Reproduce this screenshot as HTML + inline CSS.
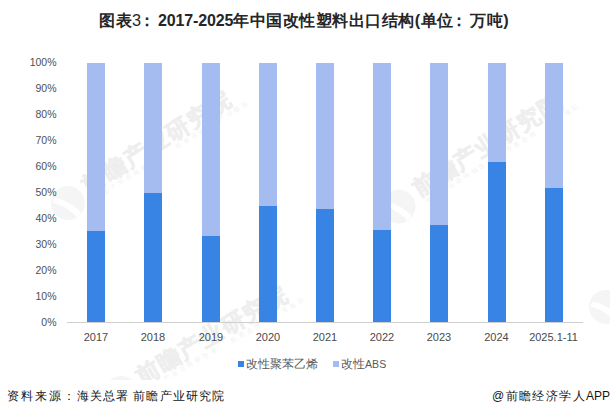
<!DOCTYPE html>
<html><head><meta charset="utf-8">
<style>
*{margin:0;padding:0;box-sizing:border-box}
html,body{width:610px;height:418px;overflow:hidden;background:#fff}
body{position:relative;font-family:"Liberation Sans",sans-serif;color:#595959}
.t{position:absolute;white-space:nowrap}
#title{left:99px;top:10px;font-size:16.3px;font-weight:bold;color:#262626;line-height:20px;letter-spacing:0.5px}
.yl{position:absolute;right:553.5px;font-size:10.5px;line-height:12px;color:#505050;text-align:right}
.xl{position:absolute;top:331px;width:60px;font-size:11px;line-height:12px;color:#4a4a4a;text-align:center}
.bar{position:absolute;width:18px;top:63px;height:259px;background:#a5bcf0}
.bar i{position:absolute;left:0;right:0;bottom:0;background:#3884e4}
#title .n{font-weight:normal}
#title .d{font-size:16px;letter-spacing:-0.15px;font-weight:bold}
.c{display:inline-block;margin-left:-3px;margin-right:3px}
#wm{position:absolute;left:0;top:0;font-family:"Liberation Sans",sans-serif}
#axis{position:absolute;left:67px;top:322px;width:516px;height:1px;background:#d0d0d0}
.sq{position:absolute;top:361px;width:6px;height:6px}
.lg{top:356px;font-size:12px;line-height:16px;color:#595959}
.abs{font-size:10.6px}
#src{position:absolute;left:7px;top:389px;font-size:12px;line-height:14px;color:#151515;letter-spacing:1.1px}
#app{position:absolute;left:492px;top:389px;font-size:12px;line-height:14px;color:#151515;letter-spacing:1.4px}
#app span{letter-spacing:0px}
</style></head><body>
<svg id="wm" width="610" height="380" viewBox="0 0 610 380">
<g transform="translate(68,203) rotate(-32)"><circle r="17" fill="#f5f5f5"/><path d="M-9,-12 C-2,-6 4,4 6,15 L0,17 C-2,6 -7,-3 -13,-8 Z" fill="#fff"/>
<text x="22" y="3" font-size="23" font-weight="bold" letter-spacing="1.6" fill="#f8f8f8" stroke="#eeeeee" stroke-width="0.7">前瞻产业研究院</text>
<text x="26" y="12" font-size="6" letter-spacing="3" fill="#f1f1f1">中国产业咨询领导者 · 投资咨询 · 产业规划</text></g>
<g transform="translate(398.5,206.5) rotate(-32)"><circle r="17" fill="#f5f5f5"/><path d="M-9,-12 C-2,-6 4,4 6,15 L0,17 C-2,6 -7,-3 -13,-8 Z" fill="#fff"/>
<text x="22" y="3" font-size="23" font-weight="bold" letter-spacing="1.6" fill="#f8f8f8" stroke="#eeeeee" stroke-width="0.7">前瞻产业研究院</text>
<text x="26" y="12" font-size="6" letter-spacing="3" fill="#f1f1f1">中国产业咨询领导者 · 投资咨询 · 产业规划</text></g>
<g transform="translate(121,393) rotate(-30)"><circle r="17" fill="#f5f5f5"/><path d="M-9,-12 C-2,-6 4,4 6,15 L0,17 C-2,6 -7,-3 -13,-8 Z" fill="#fff"/>
<text x="22" y="3" font-size="23" font-weight="bold" letter-spacing="1.6" fill="#f8f8f8" stroke="#eeeeee" stroke-width="0.7">前瞻产业研究院</text>
<text x="26" y="12" font-size="6" letter-spacing="3" fill="#f1f1f1">中国产业咨询领导者 · 投资咨询 · 产业规划</text></g>
<g transform="translate(606,307) rotate(-32)"><circle r="17" fill="#f5f5f5"/><path d="M-9,-12 C-2,-6 4,4 6,15 L0,17 C-2,6 -7,-3 -13,-8 Z" fill="#fff"/>
<text x="22" y="3" font-size="23" font-weight="bold" letter-spacing="1.6" fill="#f8f8f8" stroke="#eeeeee" stroke-width="0.7">前瞻产业研究院</text>
<text x="26" y="12" font-size="6" letter-spacing="3" fill="#f1f1f1">中国产业咨询领导者 · 投资咨询 · 产业规划</text></g>
</svg>
<div id="title" class="t">图表<span class="n">3</span><span class="c">：</span><span class="d">2017-2025</span>年中国改性塑料出口结构(单位<span class="c">：</span>万吨)</div>

<div class="yl" style="top:56px">100%</div>
<div class="yl" style="top:82px">90%</div>
<div class="yl" style="top:108px">80%</div>
<div class="yl" style="top:134px">70%</div>
<div class="yl" style="top:160px">60%</div>
<div class="yl" style="top:186px">50%</div>
<div class="yl" style="top:212px">40%</div>
<div class="yl" style="top:238px">30%</div>
<div class="yl" style="top:264px">20%</div>
<div class="yl" style="top:290px">10%</div>
<div class="yl" style="top:316px">0%</div>

<div class="bar" style="left:87px"><i style="height:91px"></i></div>
<div class="bar" style="left:144px"><i style="height:129px"></i></div>
<div class="bar" style="left:202px"><i style="height:86px"></i></div>
<div class="bar" style="left:259px"><i style="height:116px"></i></div>
<div class="bar" style="left:316px"><i style="height:113px"></i></div>
<div class="bar" style="left:373px"><i style="height:92px"></i></div>
<div class="bar" style="left:430px"><i style="height:97px"></i></div>
<div class="bar" style="left:488px"><i style="height:160px"></i></div>
<div class="bar" style="left:545px"><i style="height:134px"></i></div>
<div id="axis"></div>

<div class="xl" style="left:66px">2017</div>
<div class="xl" style="left:123px">2018</div>
<div class="xl" style="left:181px">2019</div>
<div class="xl" style="left:238px">2020</div>
<div class="xl" style="left:295px">2021</div>
<div class="xl" style="left:352px">2022</div>
<div class="xl" style="left:409px">2023</div>
<div class="xl" style="left:466.5px">2024</div>
<div class="xl" style="left:523.5px">2025.1-11</div>

<div class="sq" style="left:238px;background:#3884e4"></div><div class="t lg" style="left:246px">改性聚苯乙烯</div>
<div class="sq" style="left:333px;background:#a5bcf0"></div><div class="t lg" style="left:341px">改性<span class="abs">ABS</span></div>

<div id="src" class="t"><span style="letter-spacing:1.9px">资料来源</span><span style="margin-right:0.8px">：</span>海关总署 前瞻产业研究院</div>
<div id="app" class="t">@前瞻经济学人<span>APP</span></div>
</body></html>
